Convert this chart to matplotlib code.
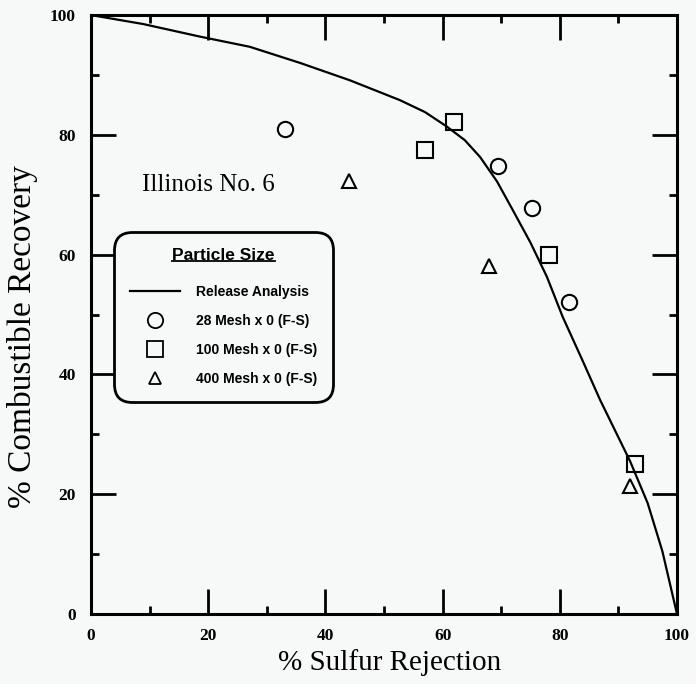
import matplotlib.pyplot as plt
from matplotlib.lines import Line2D

# Release analysis curve
release_x = [0, 8.9, 18.6, 27.1, 35.7, 44.2, 52.7, 57.0, 60.7, 63.8, 66.4, 69.3,
             72.0, 75.0, 77.8, 80.5, 83.8, 86.9, 92.0, 95.0, 97.5, 100]
release_y = [100, 98.5, 96.4, 94.7, 92.0, 89.1, 85.8, 83.8, 81.4, 79.1, 76.3, 72.2,
             67.4, 62.0, 56.3, 49.6, 42.5, 35.7, 25.5, 18.5, 10.5, 0]

# Flotation data points
mesh28_x = [33.1, 69.5, 75.3, 81.6]
mesh28_y = [81.0, 74.8, 67.8, 52.1]
mesh100_x = [57.0, 61.9, 78.2, 92.8]
mesh100_y = [77.5, 82.1, 59.9, 25.0]
mesh400_x = [44.0, 67.9, 92.0]
mesh400_y = [72.3, 58.1, 21.4]

legend_labels = ['Release Analysis', '28 Mesh x 0 (F-S)',
                 '100 Mesh x 0 (F-S)', '400 Mesh x 0 (F-S)']

BG = '#f7f8f8'
SERIF = 'Liberation Serif'
SANS = 'Liberation Sans'

fig = plt.figure(figsize=(6.96, 6.84), dpi=100, facecolor=BG)
ax = fig.add_axes([0.1307, 0.1023, 0.842, 0.8757], facecolor=BG)

ax.plot(release_x, release_y, color='black', lw=1.6)
ax.plot(mesh28_x, mesh28_y, 'o', ms=11, mfc='none', mec='black', mew=1.5)
ax.plot(mesh100_x, mesh100_y, 's', ms=11, mfc='none', mec='black', mew=1.5)
ax.plot(mesh400_x, mesh400_y, '^', ms=10, mfc='none', mec='black', mew=1.5)

ax.set_xlim(0, 100)
ax.set_ylim(0, 100)
ax.set_xticks([0, 20, 40, 60, 80, 100])
ax.set_yticks([0, 20, 40, 60, 80, 100])
ax.set_xticks([10, 30, 50, 70, 90], minor=True)
ax.set_yticks([10, 30, 50, 70, 90], minor=True)
ax.tick_params(which='both', direction='in', top=True, right=True, width=2, color='black')
ax.tick_params(which='major', length=18)
ax.tick_params(which='minor', length=6)
ax.tick_params(axis='x', which='major', pad=10)
ax.tick_params(axis='y', which='major', pad=11)
for lab in ax.get_xticklabels() + ax.get_yticklabels():
    lab.set_fontfamily(SERIF)
    lab.set_fontweight('bold')
    lab.set_fontsize(12.5)
for sp in ax.spines.values():
    sp.set_linewidth(2.2)

ax.set_xlabel('% Sulfur Rejection', fontfamily=SERIF, fontsize=21)
ax.set_ylabel('% Combustible Recovery', fontfamily=SERIF, fontsize=24)
ax.xaxis.set_label_coords(0.51, -0.058)
ax.yaxis.set_label_coords(-0.09, 0.464)

ax.text(0.087, 0.716, 'Illinois No. 6', transform=ax.transAxes,
        fontfamily=SERIF, fontsize=18, ha='left', va='center')

handles = [
    Line2D([], [], color='black', lw=1.6),
    Line2D([], [], ls='none', marker='o', ms=11, mfc='none', mec='black', mew=1.3),
    Line2D([], [], ls='none', marker='s', ms=11, mfc='none', mec='black', mew=1.3),
    Line2D([], [], ls='none', marker='^', ms=9, mfc='none', mec='black', mew=1.3),
]
leg = ax.legend(handles, legend_labels, loc='upper left',
                bbox_to_anchor=(0.039, 0.638), borderaxespad=0,
                prop={'family': SANS, 'weight': 'bold', 'size': 10},
                title='Particle Size',
                title_fontproperties={'family': SANS, 'weight': 'bold', 'size': 12.5},
                handlelength=3.6, handletextpad=1.15, labelspacing=1.07,
                borderpad=1.15, frameon=True, fancybox=True, facecolor=BG,
                edgecolor='black', framealpha=1)
leg.get_frame().set_linewidth(2)
leg.get_frame().set_boxstyle('round', pad=0, rounding_size=1.3)
leg._legend_box.sep = 16

# underline the legend title
fig.canvas.draw()
bb = leg.get_title().get_window_extent().transformed(fig.transFigure.inverted())
fig.add_artist(Line2D([bb.x0, bb.x1], [bb.y0 + 0.002, bb.y0 + 0.002],
                      transform=fig.transFigure, color='black', lw=1.3))

fig.savefig('out.png', dpi=100, facecolor=BG)
